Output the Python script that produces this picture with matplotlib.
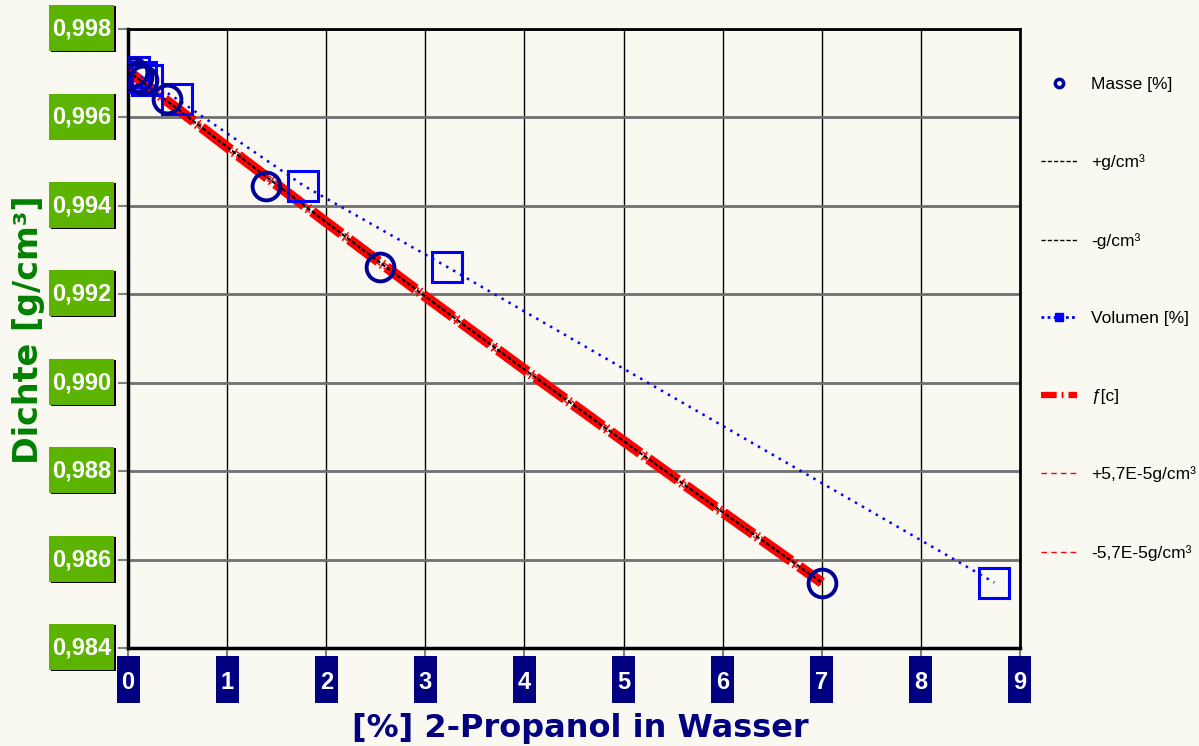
import matplotlib.pyplot as plt
from matplotlib.patches import Rectangle
from matplotlib.lines import Line2D
import matplotlib.transforms as mtransforms

# measured points: density vs 2-propanol content
masse_pct = [0.05, 0.10, 0.15, 0.39, 1.39, 2.54, 7.00]
volumen_pct = [0.06, 0.13, 0.19, 0.49, 1.77, 3.22, 8.74]
dichte = [0.99703, 0.99692, 0.99685, 0.99642, 0.99446, 0.99262, 0.98548]

# fitted curve f[c] and bands
fit_x = [0, 1, 2, 3, 4, 5, 6, 7]
fit_y = [0.99705, 0.99533, 0.99363, 0.99195, 0.99030, 0.98868, 0.98707, 0.98548]
band_g_plus = [0.99706, 0.99534, 0.99364, 0.99196, 0.99031, 0.98869, 0.98708, 0.98549]
band_g_minus = [0.99704, 0.99532, 0.99362, 0.99194, 0.99029, 0.98867, 0.98706, 0.98547]
band_57_plus = [0.99711, 0.99539, 0.99369, 0.99201, 0.99036, 0.98874, 0.98713, 0.98554]
band_57_minus = [0.99699, 0.99527, 0.99357, 0.99189, 0.99024, 0.98862, 0.98701, 0.98542]

xticks = [0, 1, 2, 3, 4, 5, 6, 7, 8, 9]
yticks = [0.984, 0.986, 0.988, 0.990, 0.992, 0.994, 0.996, 0.998]
ytick_labels = ['0,984', '0,986', '0,988', '0,990', '0,992', '0,994', '0,996', '0,998']

bg = '#faf9f1'
green = '#5cb400'
navy = '#000080'
tickfont = ['Liberation Sans Narrow', 'Liberation Sans', 'DejaVu Sans']

fig = plt.figure(figsize=(11.99, 7.46), dpi=100, facecolor=bg)
ax = fig.add_axes([0.1068, 0.1314, 0.7439, 0.8297], facecolor=bg)

ax.plot(fit_x, fit_y, color='red', lw=7.5, dashes=(3.5, 0.4, 0.15, 0.4), zorder=2)
ax.plot(fit_x, band_57_plus, color='red', lw=1, ls=(0, (4, 3)), zorder=2.1)
ax.plot(fit_x, band_57_minus, color='red', lw=1, ls=(0, (4, 3)), zorder=2.1)
ax.plot(fit_x, band_g_plus, color='black', lw=1, ls=(0, (3, 1.5)), zorder=2.2)
ax.plot(fit_x, band_g_minus, color='black', lw=1, ls=(0, (3, 1.5)), zorder=2.2)
ax.plot(volumen_pct, dichte, color='#0000ff', lw=1.8, ls=(0, (1, 2.2)), marker='s', ms=21,
        mfc='none', mec='#0000ff', mew=2.2, zorder=3)
ax.plot(masse_pct, dichte, ls='none', marker='o', ms=20, mfc='none', mec='#000099',
        mew=2.8, zorder=4)

ax.set_xlim(0, 9)
ax.set_ylim(0.984, 0.998)
ax.set_xticks(xticks)
ax.set_yticks(yticks)
ax.set_xticklabels([])
ax.set_yticklabels([])
ax.tick_params(axis='both', length=7, width=1.5, color='#808080', direction='out')
ax.grid(axis='x', color='black', lw=1)
ax.grid(axis='y', color='#707070', lw=2)
ax.set_axisbelow(True)
for side in ['left', 'bottom']:
    ax.spines[side].set_linewidth(2.5)
for side in ['top', 'right']:
    ax.spines[side].set_linewidth(2)

# green boxes for the y tick labels
ytrans = mtransforms.blended_transform_factory(ax.transAxes, ax.transData)
for v, lab in zip(yticks, ytick_labels):
    ax.add_patch(Rectangle((-0.0865, v - 0.00052), 0.0728, 0.00104, transform=ytrans,
                           facecolor='black', edgecolor='none', clip_on=False, zorder=5))
    ax.add_patch(Rectangle((-0.0886, v - 0.00050), 0.0728, 0.00104, transform=ytrans,
                           facecolor=green, edgecolor='none', clip_on=False, zorder=6))
    ax.text(-0.0522, v, lab, transform=ytrans, ha='center', va='center', color='white',
            fontsize=17, fontweight='bold', family=tickfont, zorder=7)

# navy boxes for the x tick labels
xtrans = mtransforms.blended_transform_factory(ax.transData, ax.transAxes)
for v in xticks:
    ax.add_patch(Rectangle((v - 0.116, -0.0889), 0.232, 0.076, transform=xtrans,
                           facecolor=navy, edgecolor='none', clip_on=False, zorder=6))
    ax.text(v, -0.0565, str(v), transform=xtrans, ha='center', va='center', color='white',
            fontsize=17, fontweight='bold', family=tickfont, zorder=7)

fig.text(0.024, 0.558, 'Dichte [g/cm³]', rotation=90, ha='center', va='center',
         color='#008000', fontsize=24, fontweight='bold', family='DejaVu Sans')
fig.text(0.484, 0.024, '[%] 2-Propanol in Wasser', ha='center', va='center',
         color=navy, fontsize=23, fontweight='bold', family='DejaVu Sans')

# legend on the right, proxies styled like the original legend
handles = [
    Line2D([], [], ls='none', marker='o', ms=6, mfc='none', mec='#000099', mew=2.5),
    Line2D([], [], color='black', lw=1, ls=(0, (3, 1.5))),
    Line2D([], [], color='black', lw=1, ls=(0, (3, 1.5))),
    Line2D([], [], color='#0000ff', lw=2, ls=(0, (1, 1.2)), marker='s', ms=6, mfc='#0000ff', mec='#0000ff'),
    Line2D([], [], color='red', lw=4.5, dashes=(2.5, 0.8, 0.3, 0.8)),
    Line2D([], [], color='red', lw=1, ls=(0, (4, 3))),
    Line2D([], [], color='red', lw=1, ls=(0, (4, 3))),
]
labels = ['Masse [%]', '+g/cm³', '-g/cm³', 'Volumen [%]', 'ƒ[c]', '+5,7E-5g/cm³', '-5,7E-5g/cm³']
fig.legend(handles, labels, loc='upper left', bbox_to_anchor=(0.855, 0.918),
           frameon=False, labelspacing=3.6, handlelength=2.1, handletextpad=0.8,
           prop={'family': 'Liberation Sans', 'size': 12.5})

fig.savefig('out.png', dpi=100, facecolor=bg)
